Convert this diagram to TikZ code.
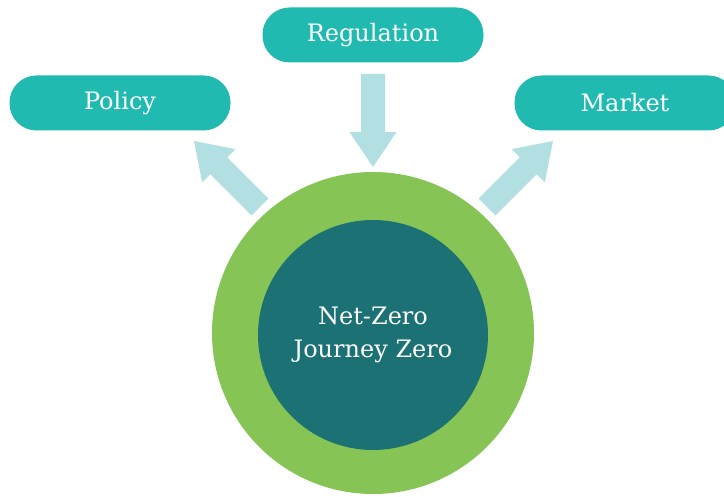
\documentclass[tikz,border=0pt]{standalone}
\usepackage{fontspec}
\setmainfont{DejaVu Serif}
\usetikzlibrary{calc}

\definecolor{pillteal}{HTML}{20BAB0}
\definecolor{ringgreen}{HTML}{85C455}
\definecolor{coreteal}{HTML}{1B7173}
\definecolor{arrowblue}{HTML}{B1DFE2}

\tikzset{
  pill/.style={rectangle, rounded corners=27pt, fill=pillteal, text=white,
    minimum width=221pt, minimum height=55pt, font=\fontsize{24}{28}\selectfont},
}

% block arrow from tail coordinate #1 to tip coordinate #2
\newcommand\blockarrow[2]{%
  \coordinate (h) at ($(#1)!0.624!(#2)$);
  \fill[arrowblue] ($(#1)!12pt!90:(#2)$) -- ($(h)!12pt!-90:(#1)$)
    -- ($(h)!23.5pt!-90:(#1)$) -- (#2) -- ($(h)!23.5pt!90:(#1)$)
    -- ($(h)!12pt!90:(#1)$) -- ($(#1)!12pt!-90:(#2)$) -- cycle;
}

\begin{document}
\begin{tikzpicture}[x=1pt,y=-1pt]

  \useasboundingbox (0,0) rectangle (724,497);
  \clip (0,0) rectangle (724,497);

  % rings
  \fill[ringgreen] (373,333) circle (161pt);
  \node[circle, fill=coreteal, minimum size=230pt, text=white, align=center,
    font=\fontsize{24}{33}\selectfont] (core) at (373,335) {Net-Zero\\Journey Zero};

  % drivers
  \begin{scope}[every node/.style={pill}]
    \node (regulation) at (373,35)  {Regulation};
    \node (policy)     at (120,103) {Policy};
    \node (market)     at (625,103) {Market};
  \end{scope}

  % arrows
  \coordinate (regtail) at (373,74);
  \coordinate (regtip)  at (373,167);
  \coordinate (poltail) at (260,207);
  \coordinate (poltip)  at (194,141);
  \coordinate (mkttail) at (487,207);
  \coordinate (mkttip)  at (553,141);

  \blockarrow{regtail}{regtip}
  \blockarrow{poltail}{poltip}
  \blockarrow{mkttail}{mkttip}

\end{tikzpicture}
\end{document}
